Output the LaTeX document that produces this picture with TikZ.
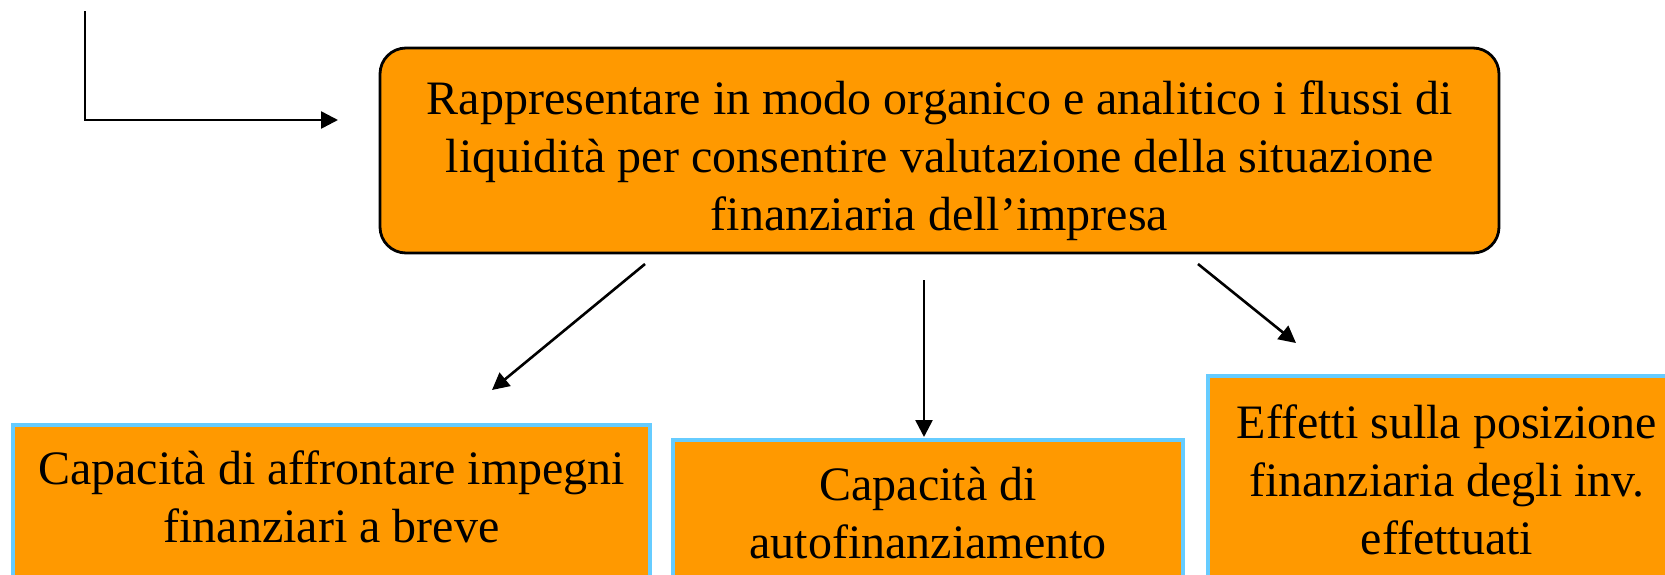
\documentclass[tikz,border=0pt]{standalone}
\usepackage{fontspec}
\setmainfont{Liberation Serif}
\usetikzlibrary{arrows.meta}
\definecolor{boxorange}{RGB}{255,153,0}
\definecolor{boxblue}{RGB}{102,204,255}
\tikzset{
  mainbox/.style={draw=black, line width=1.4pt, fill=boxorange, rounded corners=13pt, inner sep=0pt},
  subbox/.style={draw=boxblue, line width=1.6pt, fill=boxorange, inner sep=0pt},
  boxtext/.style={align=center, inner sep=0pt, font=\fontsize{24}{29}\selectfont},
  arr/.style={draw=black, line width=1.3pt, -{Triangle[length=8.5pt,width=8.5pt]}}
}
\begin{document}
\begin{tikzpicture}[x=0.5pt,y=-0.5pt]
\useasboundingbox (0,0) rectangle (1665,574);
\clip (0,0) rectangle (1665,574);
\node[mainbox, minimum width=559.5pt, minimum height=102.5pt] (main) at (939.5,150.5) {};
\node[boxtext] (maintxt) at (939.5,161)
  {Rappresentare in modo organico e analitico i flussi di\\liquidità per consentire valutazione della situazione\\finanziaria dell’impresa};
\node[subbox, minimum width=318.5pt, minimum height=100pt] (left) at (331.5,525) {};
\node[boxtext] (lefttxt) at (331.5,497) {Capacità di affrontare impegni\\finanziari a breve};
\node[subbox, minimum width=255pt, minimum height=99pt] (mid) at (928,539) {};
\node[boxtext] (midtxt) at (928,513) {Capacità di\\autofinanziamento};
\node[subbox, minimum width=239pt, minimum height=104pt] (right) at (1447,480) {};
\node[boxtext] (righttxt) at (1447,480) {Effetti sulla posizione\\finanziaria degli inv.\\effettuati};
\coordinate (src) at (85,11);
\coordinate (bend) at (85,120);
\coordinate (ent) at (338,120);
\coordinate (ls) at (645,264);
\coordinate (le) at (492,390);
\coordinate (ms) at (924,280);
\coordinate (me) at (924,437);
\coordinate (rs) at (1198,264);
\coordinate (re) at (1296,343);
\draw[arr] (src) -- (bend) -- (ent);
\draw[arr] (ls) -- (le);
\draw[arr] (ms) -- (me);
\draw[arr] (rs) -- (re);
\end{tikzpicture}
\end{document}
